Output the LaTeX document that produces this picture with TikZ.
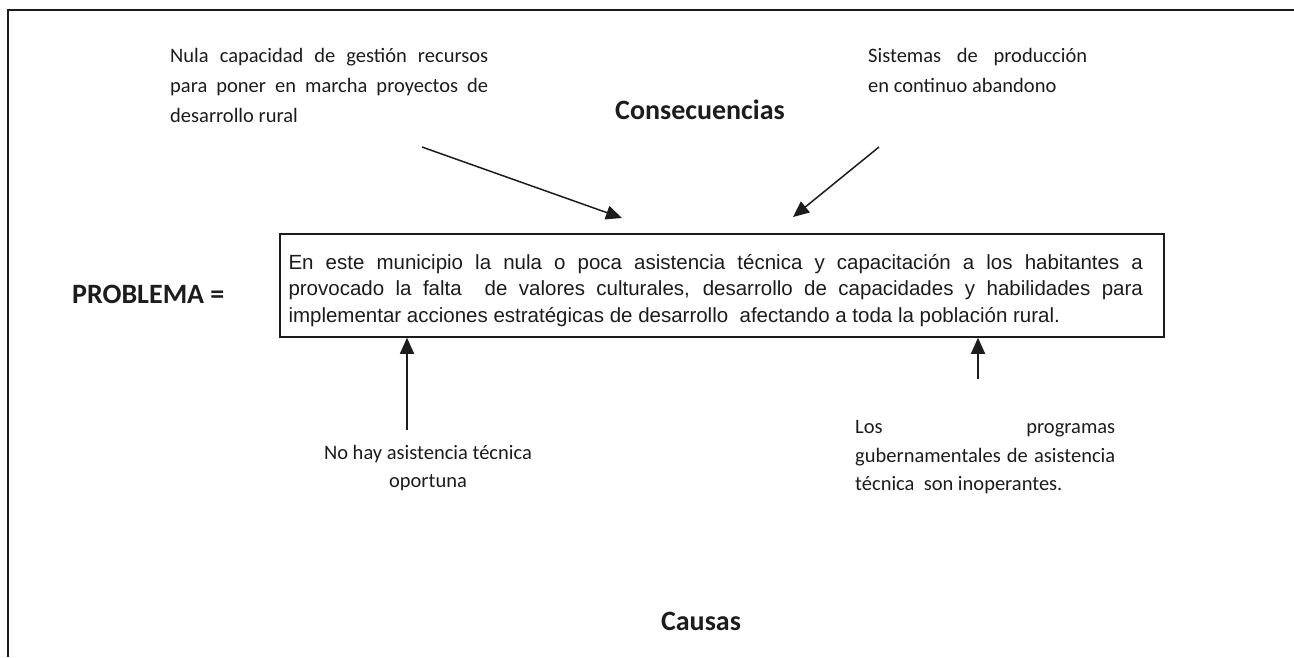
\documentclass[tikz,border=0pt]{standalone}
\usepackage{fontspec}
\setmainfont{Carlito}
\newfontfamily\arialf{Liberation Sans}
\usetikzlibrary{arrows.meta}
\definecolor{ink}{RGB}{28,28,28}
\begin{document}
\begin{tikzpicture}[x=1pt,y=-1pt,
  lbl/.style={inner sep=0pt, text=ink, font=\fontsize{20.5}{30}\selectfont, align=left, anchor=north west},
  ttl/.style={inner sep=0pt, text=ink, font=\bfseries\fontsize{28}{34}\selectfont},
  arr/.style={draw=ink, line width=1.5pt, -{Triangle[length=16pt,width=14pt]}},
  probbox/.style={draw=ink, line width=1.5pt, minimum width=884pt, minimum height=103pt, inner sep=0pt},
  frame/.style={draw=ink, line width=2pt}]
\useasboundingbox (0,0) rectangle (1294,657);
\draw[frame] (1294,10) -- (8,10) -- (8,657);

% problem box
\node[probbox] (prob) at (722,285.5) {};
\node[anchor=north west, inner sep=0pt, text=ink, align=left,
      font=\arialf\fontsize{20.5}{26.7}\selectfont] (ptext) at (288.3,250.3)
  {\makebox[854.5pt][s]{\strut En este municipio la nula o poca asistencia técnica y capacitación a los habitantes a}\\
   \makebox[854.5pt][s]{provocado la falta\ \ de valores culturales, desarrollo de capacidades y habilidades para}\\
   implementar acciones estratégicas de desarrollo\ \ afectando a toda la población rural.};

% titles
\node[ttl, anchor=base] (cons) at (700,119) {Consecuencias};
\node[ttl, anchor=base] (caus) at (701,630) {Causas};
\node[ttl, anchor=base west] (probl) at (72,303) {PROBLEMA =};

% consequences
\node[lbl] (c1) at (170,41)
  {\makebox[318pt][s]{\strut Nula capacidad de gestión recursos}\\
   \makebox[318pt][s]{para poner en marcha proyectos de}\\
   desarrollo rural};
\node[lbl] (c2) at (868,41)
  {\makebox[219pt][s]{\strut Sistemas de producción}\\
   en continuo abandono};

% causes
\node[lbl, align=center, anchor=north, font=\fontsize{20.5}{28}\selectfont] (k1) at (428,440)
  {\strut No hay asistencia técnica\\ oportuna};
\node[lbl, font=\fontsize{20.5}{28.5}\selectfont] (k2) at (855,413.5)
  {\makebox[260pt][s]{\strut Los programas}\\
   \makebox[260pt][s]{gubernamentales de asistencia}\\
   técnica\ \ son inoperantes.};

% arrows
\coordinate (a1s) at (422,147);
\coordinate (a1e) at (622,218);
\coordinate (a2s) at (879,147);
\coordinate (a2e) at (793,217);
\coordinate (b1s) at (407,430);
\coordinate (b2s) at (978,379);
\draw[arr] (a1s) -- (a1e);
\draw[arr] (a2s) -- (a2e);
\draw[arr] (b1s) -- (b1s |- prob.south);
\draw[arr] (b2s) -- (b2s |- prob.south);
\end{tikzpicture}
\end{document}
